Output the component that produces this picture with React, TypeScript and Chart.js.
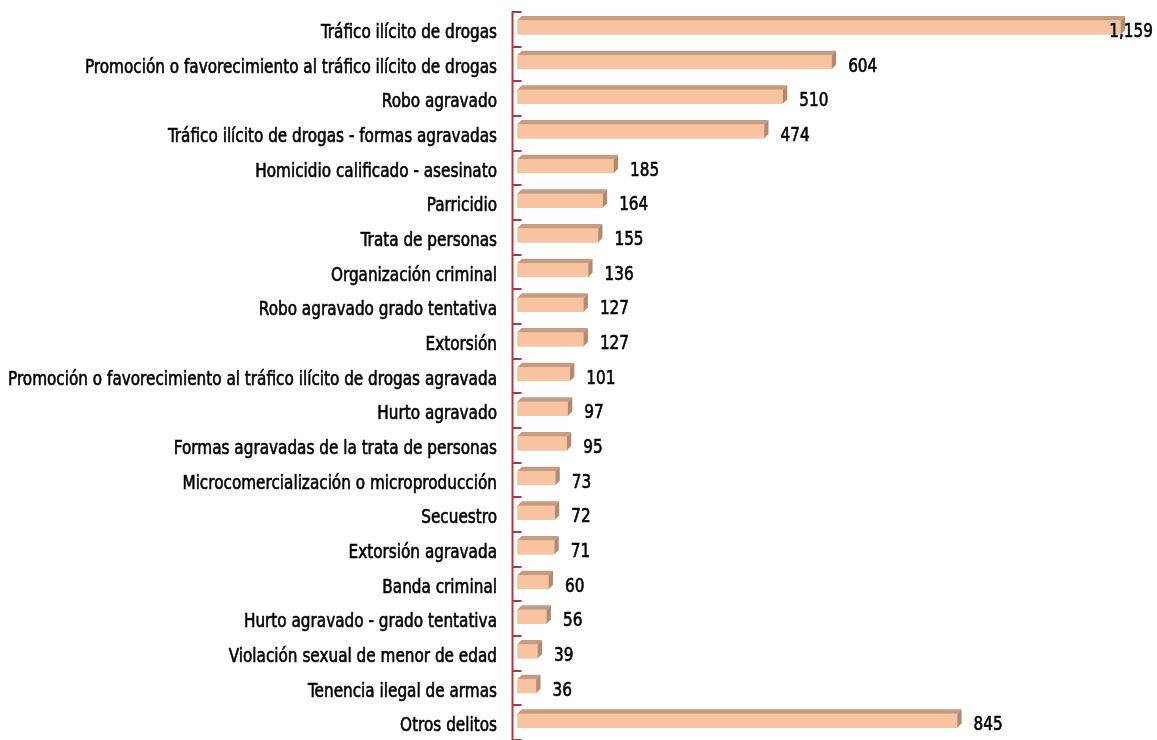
import React, { useEffect, useRef } from "react";
import { Chart, registerables } from "chart.js";

Chart.register(...registerables);

const categories: string[] = [
  "Tráfico ilícito de drogas",
  "Promoción o favorecimiento al tráfico ilícito de drogas",
  "Robo agravado",
  "Tráfico ilícito de drogas - formas agravadas",
  "Homicidio calificado - asesinato",
  "Parricidio",
  "Trata de personas",
  "Organización criminal",
  "Robo agravado grado tentativa",
  "Extorsión",
  "Promoción o favorecimiento al tráfico ilícito de drogas agravada",
  "Hurto agravado",
  "Formas agravadas de la trata de personas",
  "Microcomercialización o microproducción",
  "Secuestro",
  "Extorsión agravada",
  "Banda criminal",
  "Hurto agravado - grado tentativa",
  "Violación sexual de menor de edad",
  "Tenencia ilegal de armas",
  "Otros delitos",
];

const values: number[] = [
  1159, 604, 510, 474, 185, 164, 155, 136, 127, 127, 101, 97, 95, 73, 72, 71,
  60, 56, 39, 36, 845,
];

const FONT_FAMILY = "'DejaVu Sans Condensed', 'DejaVu Sans', sans-serif";
const FONT_SIZE = 20;
const FRONT = "#F8C4A0";
const TOP = "#C49C84";
const SIDE = "#B38A70";
const AXIS = "#A83A42";

const bar3dPlugin = {
  id: "bar3d",
  beforeDatasetsDraw(chart: any) {
    chart.ctx.save();
    chart.ctx.translate(0, -2);
  },
  afterDatasetsDraw(chart: any) {
    const ctx = chart.ctx;
    const meta = chart.getDatasetMeta(0);
    const d = 4.3;
    meta.data.forEach((el: any) => {
      const p = el.getProps(["x", "y", "base", "height"], true);
      const top = p.y - p.height / 2;
      const bottom = p.y + p.height / 2;
      ctx.fillStyle = TOP;
      ctx.beginPath();
      ctx.moveTo(p.base, top);
      ctx.lineTo(p.base + d, top - d);
      ctx.lineTo(p.x + d, top - d);
      ctx.lineTo(p.x, top);
      ctx.closePath();
      ctx.fill();
      ctx.fillStyle = SIDE;
      ctx.beginPath();
      ctx.moveTo(p.x, top);
      ctx.lineTo(p.x + d, top - d);
      ctx.lineTo(p.x + d, bottom - d);
      ctx.lineTo(p.x, bottom);
      ctx.closePath();
      ctx.fill();
    });
    ctx.restore();

    ctx.save();
    ctx.font = `${FONT_SIZE}px ${FONT_FAMILY}`;
    ctx.fillStyle = "#000";
    ctx.strokeStyle = "#000";
    ctx.lineWidth = 0.6;
    ctx.lineJoin = "round";
    ctx.textBaseline = "alphabetic";
    // horizontal compression so the text looks like the condensed original
    let longest = "";
    categories.forEach((c) => {
      if (c.length > longest.length) longest = c;
    });
    const sx = Math.min(1, 489 / ctx.measureText(longest).width);

    // value labels
    meta.data.forEach((el: any, i: number) => {
      const p = el.getProps(["x", "y"], true);
      const txt = values[i].toLocaleString("en-US");
      const w = ctx.measureText(txt).width * sx;
      let tx = p.x + d + 12;
      if (tx + w > chart.width - 4) tx = chart.width - 4 - w;
      ctx.save();
      ctx.translate(tx, p.y + 7.5);
      ctx.scale(sx, 1);
      ctx.textAlign = "left";
      ctx.fillText(txt, 0, 0);
      ctx.strokeText(txt, 0, 0);
      ctx.restore();
    });

    // category labels
    const ys = chart.scales.y;
    const area = chart.chartArea;
    categories.forEach((c, i) => {
      const cy = ys.getPixelForValue(i);
      ctx.save();
      ctx.translate(area.left - 16, cy + 8.5);
      ctx.scale(sx, 1);
      ctx.textAlign = "right";
      ctx.fillText(c, 0, 0);
      ctx.strokeText(c, 0, 0);
      ctx.restore();
    });
    ctx.restore();

    // axis line and tick marks
    const ax = area.left - 0.5;
    const step = ys.getPixelForValue(1) - ys.getPixelForValue(0);
    ctx.save();
    ctx.strokeStyle = AXIS;
    ctx.lineWidth = 2;
    ctx.beginPath();
    ctx.moveTo(ax, ys.getPixelForValue(0) - step / 2);
    ctx.lineTo(ax, chart.height + 10);
    for (let i = 0; i <= categories.length; i++) {
      const yb = Math.round(ys.getPixelForValue(i) - step / 2);
      ctx.moveTo(ax - 1, yb);
      ctx.lineTo(ax + 9, yb);
    }
    ctx.stroke();
    ctx.restore();
  },
};

export default function App() {
  const ref = useRef<HTMLCanvasElement | null>(null);
  useEffect(() => {
    if (!ref.current) return;
    const chart = new Chart(ref.current, {
      type: "bar",
      data: {
        labels: categories,
        datasets: [
          {
            data: values,
            backgroundColor: FRONT,
            borderWidth: 0,
            barThickness: 14,
          },
        ],
      },
      options: {
        indexAxis: "y",
        animation: false,
        responsive: false,
        maintainAspectRatio: false,
        layout: { padding: { top: 12, bottom: -4, left: 0, right: 0 } },
        plugins: {
          legend: { display: false },
          tooltip: { enabled: false },
          title: { display: false },
        },
        scales: {
          x: {
            display: false,
            min: -8.6,
            max: 1228.7,
          },
          y: {
            afterFit: (s: any) => {
              s.width = 513;
              s.paddingTop = 0;
              s.paddingBottom = 0;
            },
            grid: { display: false, drawTicks: false },
            border: { display: false },
            ticks: { display: false, autoSkip: false },
          },
        },
      },
      plugins: [bar3dPlugin],
    });
    return () => chart.destroy();
  }, []);
  return (
    <div style={{ position: "fixed", left: 0, top: 0, width: 1157, height: 740, background: "#fff" }}>
      <canvas ref={ref} width={1157} height={740} style={{ display: "block" }} />
    </div>
  );
}
